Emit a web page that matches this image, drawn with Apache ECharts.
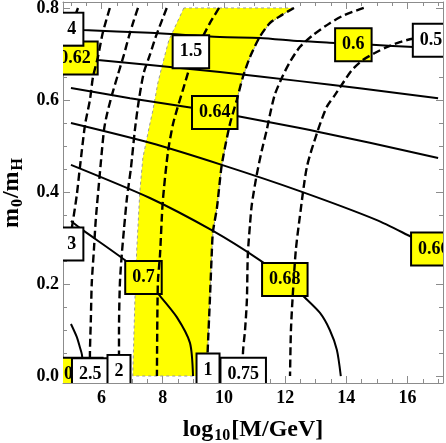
<!DOCTYPE html>
<html><head><meta charset="utf-8">
<script src="https://cdn.jsdelivr.net/npm/echarts@6/dist/echarts.min.js"></script>
<style>html,body{margin:0;padding:0;background:#fff}#c{width:446px;height:443px}</style>
</head><body><div id="c"></div>
<script>
// ---- ticks ----
const xMajorTicks = [6, 8, 10, 12, 14, 16];
const xMinorTicks = [5, 5.5, 6.5, 7, 7.5, 8.5, 9, 9.5, 10.5, 11, 11.5, 12.5, 13, 13.5, 14.5, 15, 15.5, 16.5, 17];
const yMajorTicks = [0, 0.2, 0.4, 0.6, 0.8];
const yMinorTicks = [0.05, 0.1, 0.15, 0.25, 0.3, 0.35, 0.45, 0.5, 0.55, 0.65, 0.7, 0.75];

// ---- yellow band (left edge; right edge follows the "1" contour) ----
const bandLeft = [[8.69,0.80],[8.43,0.763],[8.20,0.730],[8.0,0.680],[7.84,0.637],[7.68,0.578],[7.55,0.539],[7.35,0.474],[7.25,0.40],[7.15,0.274],[7.09,0.165],[7.02,0]];

// ---- dashed contours ----
const c4 = [[5.23,0.80],[5.12,0.78],[5.0,0.755]];
const c3 = [[6.27,0.80],[6.04,0.746],[5.88,0.693],[5.72,0.65],[5.62,0.60],[5.46,0.546],[5.29,0.452],[5.19,0.393],[5.06,0.335],[5.0,0.31]];
const c25 = [[7.19,0.80],[7.06,0.774],[6.89,0.737],[6.73,0.698],[6.53,0.654],[6.34,0.611],[6.17,0.567],[6.08,0.535],[5.94,0.437],[5.81,0.339],[5.75,0.274],[5.68,0.202],[5.65,0.122],[5.62,0.046],[5.62,0]];
const c2 = [[8.13,0.80],[7.94,0.767],[7.77,0.737],[7.58,0.698],[7.38,0.659],[7.22,0.60],[7.09,0.535],[6.96,0.452],[6.83,0.387],[6.73,0.317],[6.66,0.263],[6.60,0.202],[6.57,0.10],[6.57,0]];
const c15 = [[9.84,0.80],[9.54,0.767],[9.21,0.724],[8.89,0.672],[8.66,0.622],[8.46,0.578],[8.33,0.546],[8.17,0.487],[8.0,0.378],[7.91,0.263],[7.84,0.202],[7.81,0]];
const c1 = [[12.29,0.80],[11.90,0.785],[11.50,0.767],[11.17,0.737],[10.85,0.693],[10.62,0.65],[10.42,0.60],[10.19,0.546],[9.93,0.459],[9.77,0.365],[9.64,0.313],[9.60,0.263],[9.54,0.165],[9.47,0.057],[9.44,0]];
const c075 = [[14.57,0.80],[13.95,0.785],[13.46,0.767],[12.91,0.741],[12.48,0.715],[12.16,0.683],[11.89,0.648],[11.66,0.611],[11.50,0.567],[11.40,0.535],[11.24,0.491],[11.07,0.437],[10.91,0.372],[10.85,0.328],[10.78,0.263],[10.75,0.165],[10.69,0.10],[10.62,0.046],[10.62,0]];
const c05 = [[16.99,0.741],[16.17,0.733],[15.75,0.726],[15.32,0.715],[14.93,0.702],[14.54,0.687],[14.18,0.665],[13.89,0.637],[13.63,0.611],[13.36,0.585],[13.04,0.528],[12.71,0.454],[12.48,0.346],[12.35,0.274],[12.26,0.187],[12.19,0.10],[12.16,0]];

// ---- solid contours ----
const s060 = [[5.0,0.755],[5.39,0.752],[7.58,0.746],[9.87,0.737],[11.17,0.735],[12.48,0.728],[13.63,0.724],[14.84,0.72],[16.2,0.715],[17.0,0.713]];
const s062 = [[5.0,0.693],[5.88,0.687],[7.58,0.676],[9.87,0.661],[12.48,0.641],[14.5,0.625],[17.0,0.604]];
const s064 = [[5.0,0.626],[6.93,0.604],[8.95,0.583],[10.42,0.565],[12.48,0.539],[13.14,0.53],[14.77,0.507],[17.0,0.474]];
const s066 = [[5.0,0.55],[7.58,0.507],[9.93,0.459],[12.48,0.402],[15.0,0.339],[16.14,0.302],[17.0,0.274]];
const s068 = [[5.0,0.459],[7.58,0.387],[9.6,0.317],[11.17,0.252],[12.0,0.21],[12.65,0.17],[13.14,0.137],[13.46,0.10],[13.69,0.057],[13.82,0]];
const s070 = [[5.0,0.337],[5.39,0.317],[6.76,0.252],[7.37,0.214],[7.91,0.174],[8.46,0.128],[8.89,0.072],[8.99,0]];
const s072 = [[5.0,0.113],[5.19,0.085],[5.29,0.063],[5.36,0.046],[5.42,0]];

// ---- contour labels ----
const solidLabelPos = [[14.23,0.72],[5.13,0.691],[9.70,0.573],[16.86,0.276],[11.99,0.21],[7.37,0.214],[5.29,0.004]];
const solidLabelText = ['0.6','0.62','0.64','0.66','0.68','0.7','0.72'];
const dashedLabelPos = [[5.03,0.754],[5.03,0.287],[5.63,0.003],[6.57,0.01],[8.92,0.705],[9.48,0.013],[10.63,0.004],[16.77,0.73]];
const dashedLabelText = ['4','3','2.5','2','1.5','1','0.75','0.5'];

const XMIN = 4.74, XMAX = 17.16, YMIN = -0.0152, YMAX = 0.813;
const FONT = '"Liberation Serif", "Times New Roman", serif';
const FRAME = '#8c8c8c';

const chart = echarts.init(document.getElementById('c'), null, {renderer: 'canvas'});

function xAx(pos, major, showLabel) {
  return {
    type: 'value', position: pos, min: XMIN, max: XMAX,
    axisLine: {show: major, onZero: false, lineStyle: {color: FRAME, width: 1}},
    axisTick: {show: true, inside: true, length: major ? 7 : 4, customValues: major ? xMajorTicks : xMinorTicks, lineStyle: {color: FRAME, width: 1}},
    axisLabel: {show: showLabel, customValues: xMajorTicks, color: '#000', fontFamily: FONT, fontWeight: 'bold', fontSize: 18, margin: 6},
    splitLine: {show: false}
  };
}
function yAx(pos, major, showLabel) {
  return {
    type: 'value', position: pos, min: YMIN, max: YMAX,
    axisLine: {show: major, onZero: false, lineStyle: {color: FRAME, width: 1}},
    axisTick: {show: true, inside: true, length: major ? 7 : 4, customValues: major ? yMajorTicks : yMinorTicks, lineStyle: {color: FRAME, width: 1}},
    axisLabel: {show: showLabel, customValues: yMajorTicks, formatter: v => v.toFixed(1), color: '#000', fontFamily: FONT, fontWeight: 'bold', fontSize: 18, margin: 4},
    splitLine: {show: false}
  };
}

const richTitle = {
  a: {fontFamily: FONT, fontWeight: 'bold', fontSize: 24, color: '#000', verticalAlign: 'top', lineHeight: 26},
  s: {fontFamily: FONT, fontWeight: 'bold', fontSize: 16, color: '#000', verticalAlign: 'bottom', lineHeight: 16, padding: [16, 1, 0, 1]}
};
const xa0 = xAx('bottom', true, true);
xa0.name = '{a|log}{s|10}{a|[M/GeV]}';
xa0.nameLocation = 'middle';
xa0.nameGap = 15;
xa0.nameTextStyle = {color: '#000', fontFamily: FONT, fontWeight: 'bold', fontSize: 24, rich: richTitle};
const ya0 = yAx('left', true, true);
ya0.name = '{a|m}{s|0}{a|/m}{s|H}';
ya0.nameLocation = 'middle';
ya0.nameGap = 37;
ya0.nameTextStyle = {color: '#000', fontFamily: FONT, fontWeight: 'bold', fontSize: 24, rich: richTitle};

function lineSeries(data, dashed, z) {
  return {type: 'line', data: data, xAxisIndex: 0, yAxisIndex: 0, showSymbol: false, symbol: 'none',
    smooth: 0.25, clip: true, silent: true, z: z,
    lineStyle: {color: '#000', width: dashed ? 2.4 : 2, type: dashed ? [8, 4] : 'solid', cap: 'butt'}};
}
function labelSeries(pos, texts, bg, z) {
  return {type: 'custom', data: pos, xAxisIndex: 0, yAxisIndex: 0, clip: true, silent: true, z: z,
    renderItem: function (params, api) {
      const p = api.coord([api.value(0), api.value(1)]);
      return {type: 'text', x: p[0], y: p[1],
        style: {text: texts[params.dataIndex], font: 'bold 18px ' + FONT, fill: '#000',
          align: 'center', verticalAlign: 'middle', backgroundColor: bg,
          borderColor: '#000', borderWidth: 2, padding: [7, 6, 6, 6]}};
    }};
}

const option = {
  animation: false,
  grid: {left: 63, right: 3, top: 2, bottom: 60, containLabel: false, outerBoundsMode: 'none'},
  xAxis: [xa0, xAx('bottom', false, false), xAx('top', true, false), xAx('top', false, false)],
  yAxis: [ya0, yAx('left', false, false), yAx('right', true, false), yAx('right', false, false)],
  series: [
    {type: 'custom', data: [[10, 0.4]], xAxisIndex: 0, yAxisIndex: 0, clip: true, silent: true, z: 1,
      renderItem: function (params, api) {
        const pts = bandLeft.concat(c1.slice().reverse()).map(d => api.coord(d));
        return {type: 'polygon', shape: {points: pts},
          style: {fill: '#ffff00', stroke: '#9a9a9a', lineWidth: 1, lineDash: [3, 3]}};
      }},
    lineSeries(s060, false, 2), lineSeries(s062, false, 2), lineSeries(s064, false, 2),
    lineSeries(s066, false, 2), lineSeries(s068, false, 2), lineSeries(s070, false, 2), lineSeries(s072, false, 2),
    labelSeries(solidLabelPos, solidLabelText, '#ffff00', 3),
    lineSeries(c4, true, 4), lineSeries(c3, true, 4), lineSeries(c25, true, 4), lineSeries(c2, true, 4),
    lineSeries(c15, true, 4), lineSeries(c1, true, 4), lineSeries(c075, true, 4), lineSeries(c05, true, 4),
    labelSeries(dashedLabelPos, dashedLabelText, '#ffffff', 5)
  ]
};
chart.setOption(option);
</script></body></html>
